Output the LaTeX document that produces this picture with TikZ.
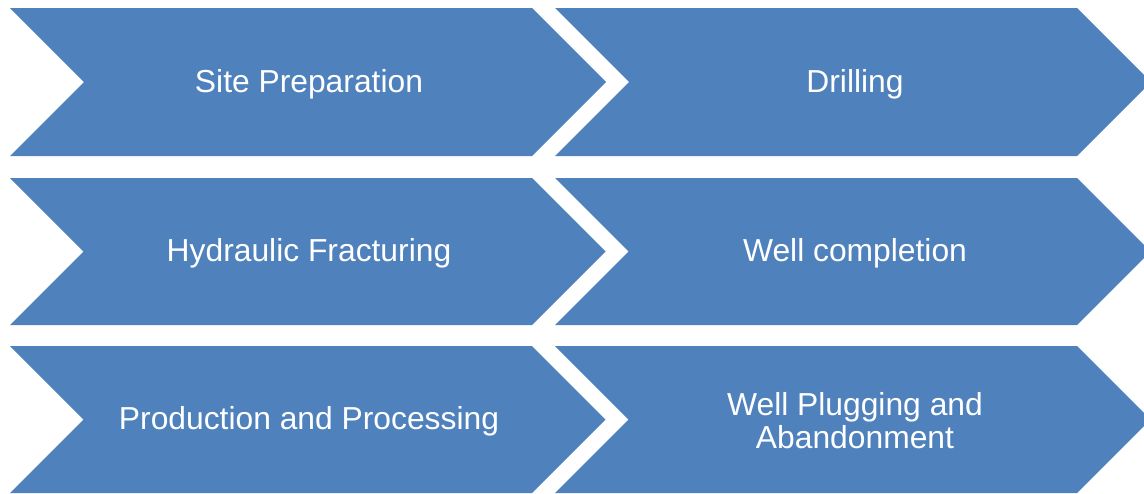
\documentclass[tikz,border=0pt]{standalone}
\usepackage{fontspec}
\setmainfont{Liberation Sans}
\begin{document}
\begin{tikzpicture}[x=1pt,y=-1pt,
  chev/.style={fill=chevblue,draw=none},
  lbl/.style={text=white,font=\fontsize{31.8}{33}\selectfont,align=center,inner sep=0pt}]
\definecolor{chevblue}{HTML}{4F81BD}
\useasboundingbox (0,0) rectangle (1144,493);
% rows: top, bottom
\foreach \t/\b in {8/156, 178/325, 346/493}{
  \pgfmathsetmacro{\m}{(\t+\b)/2}
  \pgfmathsetmacro{\h}{(\b-\t)/2}
  \fill[chev] (10,\t) -- (532,\t) -- (532+\h,\m) -- (532,\b) -- (10,\b) -- (10+\h,\m) -- cycle;
  \fill[chev] (555,\t) -- (1077,\t) -- (1077+\h,\m) -- (1077,\b) -- (555,\b) -- (555+\h,\m) -- cycle;
}
\node[lbl] (s1) at (309,84) {Site Preparation};
\node[lbl] (s2) at (855,84) {Drilling};
\node[lbl] (s3) at (309,253) {Hydraulic Fracturing};
\node[lbl] (s4) at (855,253) {Well completion};
\node[lbl] (s5) at (309,421) {Production and Processing};
\node[lbl] (s6) at (855,421) {Well Plugging and\\Abandonment};
\end{tikzpicture}
\end{document}
